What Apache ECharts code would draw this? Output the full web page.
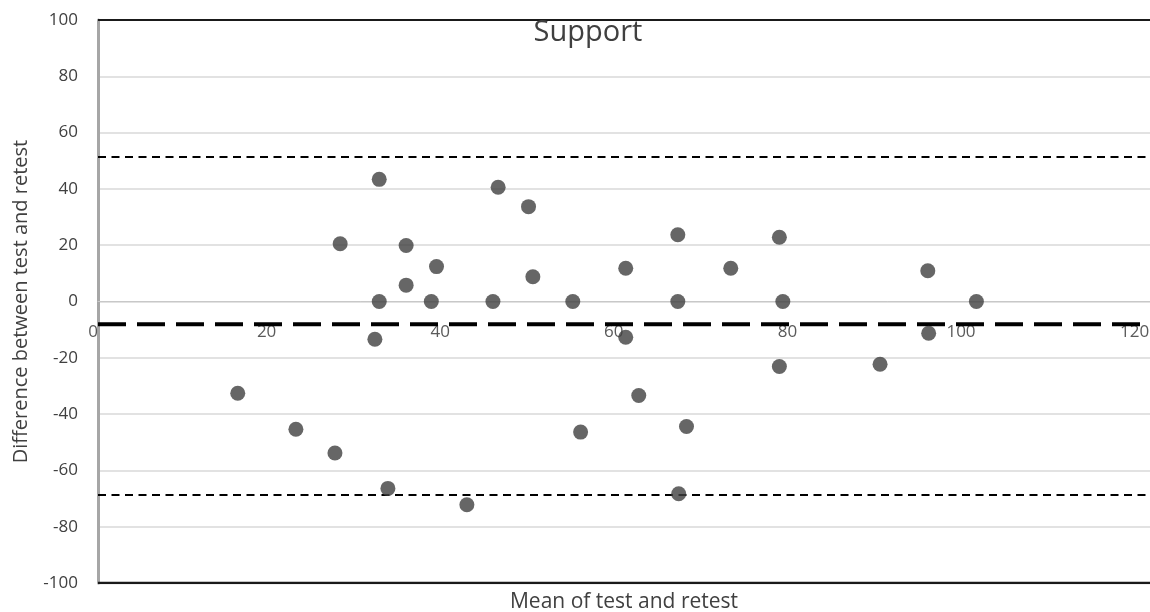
<!DOCTYPE html>
<html>
<head>
<meta charset="utf-8">
<style>
html,body{margin:0;padding:0;background:#fff;}
#chart{width:1150px;height:612px;}
</style>
<script src="https://cdn.jsdelivr.net/npm/echarts@6/dist/echarts.min.js"></script>
</head>
<body>
<div id="chart"></div>
<script>
// Data (Bland-Altman plot: mean vs difference)
var meanValues = [16.1, 22.8, 27.3, 27.9, 31.9, 32.4, 32.4, 33.4, 35.5, 35.5, 38.4, 39.0, 42.5, 45.5, 46.1, 49.6, 50.1, 54.7, 55.6, 60.8, 60.8, 62.3, 66.8, 66.8, 66.9, 67.8, 72.9, 78.5, 78.5, 78.9, 90.1, 95.6, 95.7, 101.2];
var diffValues = [-32.6, -45.4, -53.8, 20.5, -13.4, 43.4, 0, -66.4, 19.9, 5.8, 0, 12.4, -72.2, 0, 40.6, 33.7, 8.8, 0, -46.4, 11.8, -12.7, -33.4, 23.7, 0, -68.3, -44.4, 11.8, 22.8, -23.1, 0, -22.3, 10.9, -11.3, 0];
var meanDifference = -8.1;
var upperLimit = 51.3;
var lowerLimit = -68.7;
var xTicks = [0, 20, 40, 60, 80, 100, 120];
var yTicks = [-100, -80, -60, -40, -20, 0, 20, 40, 60, 80, 100];
var xMin = 0, xMax = 121.2, yMin = -100, yMax = 100;
var titleText = 'Support';
var xName = 'Mean of test and retest';
var yName = 'Difference between test and retest';

var points = meanValues.map(function (m, i) { return [m, diffValues[i]]; });
function hLine(v) { return [[xMin, v], [xMax, v]]; }

var gridTop = 20, gridBottom = 29, chartH = 612;
// pixel distance from the bottom of the grid up to the y = 0 level
var plotH = chartH - gridTop - gridBottom;
var zeroOffset = -plotH * (0 - yMin) / (yMax - yMin);

var chart = echarts.init(document.getElementById('chart'), null, {renderer: 'canvas'});
var font = '"Open Sans", "Noto Sans", sans-serif';
chart.setOption({
  animation: false,
  backgroundColor: '#ffffff',
  title: {
    text: titleText,
    left: 583, top: 13,
    textAlign: 'center',
    textStyle: {fontFamily: font, fontSize: 29, fontWeight: 'normal', color: '#404040'}
  },
  grid: {left: 98, right: 0, top: gridTop, bottom: gridBottom, containLabel: false, outerBoundsMode: 'none'},
  xAxis: {
    type: 'value', min: xMin, max: xMax, interval: 20,
    position: 'bottom', offset: zeroOffset,
    axisLine: {show: true, onZero: false, lineStyle: {color: '#c8c8c8', width: 1}},
    axisTick: {show: false},
    splitLine: {show: false},
    axisLabel: {
      color: '#5a5a5a', fontFamily: font, fontSize: 17, margin: 22,
      padding: [0, 10, 0, 0], showMaxLabel: false,
      formatter: function (v) { return xTicks.indexOf(v) >= 0 ? String(v) : ''; }
    },
    name: xName, nameLocation: 'middle', nameGap: 290,
    nameTextStyle: {fontFamily: font, fontSize: 21, color: '#404040'}
  },
  yAxis: {
    type: 'value', min: yMin, max: yMax, interval: 20,
    axisLine: {show: true, onZero: false, lineStyle: {color: '#a6a6a6', width: 3}},
    axisTick: {show: false},
    splitLine: {show: true, lineStyle: {color: '#d9d9d9', width: 1.5}},
    axisLabel: {
      color: '#404040', fontFamily: font, fontSize: 17, margin: 20,
      formatter: function (v) { return yTicks.indexOf(v) >= 0 ? String(v) : ''; }
    },
    name: yName, nameLocation: 'middle', nameGap: 67, nameRotate: 90,
    nameTextStyle: {fontFamily: font, fontSize: 20, color: '#404040'}
  },
  series: [
    {type: 'line', data: hLine(yMax), showSymbol: false, silent: true,
     lineStyle: {color: '#1a1a1a', width: 2}, z: 3},
    {type: 'line', data: hLine(yMin), showSymbol: false, silent: true,
     lineStyle: {color: '#1a1a1a', width: 2.5}, z: 3},
    {type: 'line', data: hLine(upperLimit), showSymbol: false, silent: true,
     lineStyle: {color: '#000', width: 2, type: [8, 5.5]}, z: 4},
    {type: 'line', data: hLine(lowerLimit), showSymbol: false, silent: true,
     lineStyle: {color: '#000', width: 2, type: [8, 5.5]}, z: 4},
    {type: 'line', data: hLine(meanDifference), showSymbol: false, silent: true,
     lineStyle: {color: '#000', width: 4, type: [28, 11]}, z: 4},
    {type: 'scatter', data: points, symbol: 'circle', symbolSize: 15,
     itemStyle: {color: '#404040'}, z: 5}
  ]
});
</script>
</body>
</html>
